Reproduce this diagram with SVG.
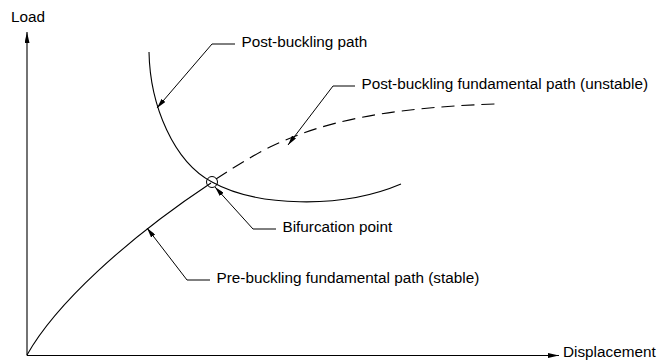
<svg xmlns="http://www.w3.org/2000/svg" width="657" height="360" viewBox="0 0 657 360">
<style>
.ln{fill:none;stroke:#000;stroke-width:1.1}
.ld{fill:none;stroke:#000;stroke-width:1}
.tx{font-family:"Liberation Sans",Arial,sans-serif;font-size:15.3px;fill:#000}
</style>
<defs>
<marker id="ah" markerUnits="userSpaceOnUse" markerWidth="10" markerHeight="5" refX="10" refY="2.5" orient="auto">
<path d="M0,0 L10,2.5 L0,5 z" fill="#000"/>
</marker>
<marker id="ax" markerUnits="userSpaceOnUse" markerWidth="11" markerHeight="5" refX="11" refY="2.5" orient="auto">
<path d="M0,0 L11,2.5 L0,5 z" fill="#000"/>
</marker>
</defs>
<rect width="657" height="360" fill="#fff"/>
<g id="axes">
<path class="ln" d="M27,355.5 L27,32" marker-end="url(#ax)"/>
<path class="ln" d="M27,355.5 L559,355.5" marker-end="url(#ax)"/>
<text class="tx" x="11" y="22">Load</text>
<text class="tx" x="563" y="356.5">Displacement</text>
</g>
<g id="curves">
<path id="pre-buckling" class="ln" d="M27,355 C55,305 125,240 211,183"/>
<path id="post-fundamental" class="ln" stroke-dasharray="13 7" d="M216,179 C230,170 250,157 270,147 C320,123 380,108 495,104"/>
<path id="post-buckling" class="ln" d="M149,52 C150,106 174,162 212,182 C255,206 340,210 401,184"/>
<circle id="bifurcation" cx="212" cy="182" r="5.5" class="ld"/>
</g>
<g id="connectors">
<path class="ld" d="M235,44 L212,44 L157,108" marker-end="url(#ah)"/>
<path class="ld" d="M355,86 L333,86 L288,145" marker-end="url(#ah)"/>
<path class="ld" d="M276,229 L253,229 L215,187" marker-end="url(#ah)"/>
<path class="ld" d="M210,280 L187,280 L147,228" marker-end="url(#ah)"/>
</g>
<g id="labels">
<text class="tx" x="241.5" y="47">Post-buckling path</text>
<text class="tx" x="361.5" y="89">Post-buckling fundamental path (unstable)</text>
<text class="tx" x="282.5" y="232">Bifurcation point</text>
<text class="tx" x="216.5" y="283">Pre-buckling fundamental path (stable)</text>
</g>
</svg>
